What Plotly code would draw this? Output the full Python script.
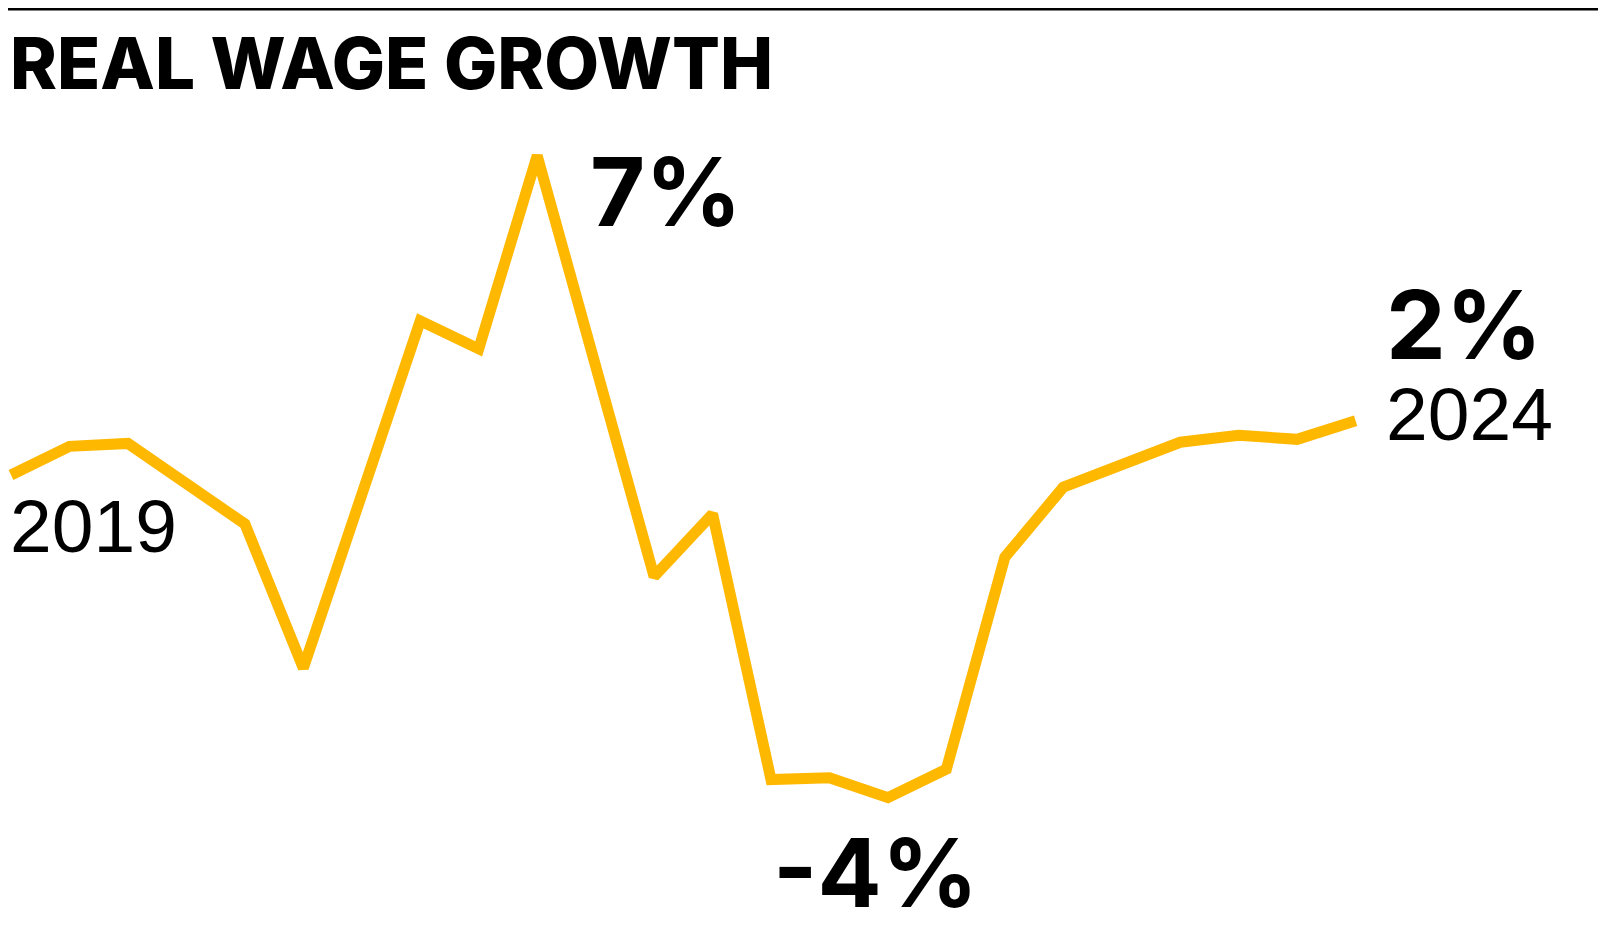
import plotly.graph_objects as go

W, H = 1606, 940

# quarterly real wage growth, 2019 Q1 .. 2024 Q4 (index = quarter number)
quarter_idx = [0, 1, 2, 4, 5, 7, 8, 9, 11, 12, 13, 14, 15, 16, 17, 18, 20, 21, 22, 23]
wage_growth = [1.53, 2.02, 2.07, 0.69, -1.78, 4.17, 3.69, 7.0, -0.21, 0.86,
               -3.69, -3.66, -4.0, -3.51, 0.12, 1.32, 2.09, 2.21, 2.14, 2.46]

LINE = "#FFB800"
BOLD = "Inter"
REG = "Liberation Sans"


def px(x, y):
    # figure pixel position -> paper coords
    return x / W, 1 - y / H


fig = go.Figure()
fig.add_trace(go.Scatter(
    x=quarter_idx, y=wage_growth, mode="lines",
    line=dict(color=LINE, width=11),
    hoverinfo="skip", showlegend=False,
))

labels = [
    # text, x px, y px (cap centre), size, font, weight
    ("REAL WAGE GROWTH", 0, 55, 71, BOLD, 800),
    ("7%", 580, 183, 95, BOLD, 700),
    ("-4%", 763, 864, 95, BOLD, 700),
    ("2%", 1376, 317, 95, BOLD, 700),
    ("2024", 1376, 406, 75, REG, 400),
    ("2019", 0, 518, 75, REG, 400),
]
for txt, x, y, size, fam, wt in labels:
    ax, ay = px(x, y)
    fig.add_annotation(
        text=txt, x=ax, y=ay, xref="paper", yref="paper",
        xanchor="left", yanchor="middle", showarrow=False,
        font=dict(family=fam, size=size, color="black", weight=wt),
    )

fig.add_shape(type="line", xref="paper", yref="paper",
              x0=0, x1=1, y0=1 - 1 / H, y1=1 - 1 / H,
              line=dict(color="black", width=3))

fig.update_layout(
    width=W, height=H,
    margin=dict(l=0, r=0, t=0, b=0),
    paper_bgcolor="white", plot_bgcolor="white",
    xaxis=dict(range=[-0.052, 27.42], visible=False, fixedrange=True),
    yaxis=dict(range=[-6.576, 9.531], visible=False, fixedrange=True),
)

fig.write_html("out.html", config={"displayModeBar": False})
